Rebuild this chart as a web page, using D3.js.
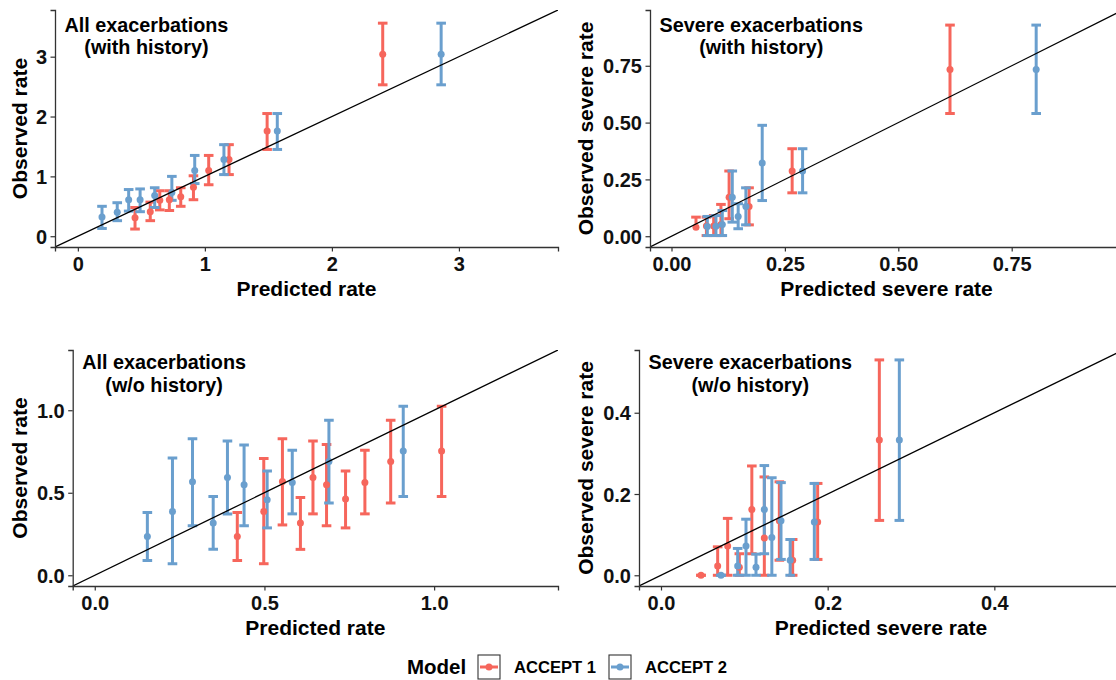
<!DOCTYPE html>
<html>
<head>
<meta charset="utf-8">
<script src="https://cdn.jsdelivr.net/npm/d3@7"></script>
<style>
  body { margin: 0; background: #fff; }
  text { font-family: "Liberation Sans", Arial, sans-serif; font-weight: bold; }
</style>
</head>
<body>
<div id="chart"></div>
<script>
// Calibration data.
// Each row: [predicted, observed, lower CI, upper CI]  (null = not drawn)

// All exacerbations (with history)
const allHistA1 = [
  [0.45, 0.31, 0.12, 0.48], [0.57, 0.41, 0.26, 0.57], [0.645, 0.60, 0.44, 0.76],
  [0.72, 0.61, 0.43, 0.76], [0.81, 0.66, 0.50, 0.81], [0.91, 0.82, 0.61, 1.01],
  [1.03, 1.10, 0.86, 1.35], [1.19, 1.28, 1.03, 1.53], [1.49, 1.76, 1.45, 2.05],
  [2.40, 3.04, 2.53, 3.56]
];
const allHistA2 = [
  [0.19, 0.32, 0.13, 0.50], [0.31, 0.40, 0.26, 0.56], [0.40, 0.61, 0.42, 0.78],
  [0.49, 0.61, 0.41, 0.79], [0.605, 0.68, 0.48, 0.81], [0.74, 0.73, 0.60, 1.00],
  [0.92, 1.10, 0.88, 1.35], [1.15, 1.28, 1.03, 1.53], [1.57, 1.76, 1.45, 2.05],
  [2.86, 3.04, 2.53, 3.56]
];

// Severe exacerbations (with history)
const sevHistA1 = [
  [0.054, 0.040, null, 0.084], [0.077, 0.045, 0.003, 0.084], [0.093, 0.045, 0.003, 0.091],
  [0.109, 0.052, 0.003, 0.140], [0.127, 0.172, 0.077, 0.287], [0.171, 0.131, 0.050, 0.213],
  [0.266, 0.287, 0.191, 0.385], [0.614, 0.734, 0.540, 0.929]
];
const sevHistA2 = [
  [0.079, 0.043, 0.003, 0.087], [0.098, 0.044, 0.003, 0.091], [0.112, 0.052, 0.003, 0.113],
  [0.134, 0.172, 0.062, 0.287], [0.147, 0.087, 0.033, 0.143], [0.164, 0.131, 0.050, 0.213],
  [0.200, 0.322, 0.157, 0.488], [0.289, 0.287, 0.191, 0.385], [0.804, 0.734, 0.540, 0.929]
];

// All exacerbations (w/o history)
const allNoHistA1 = [
  [0.42, 0.235, 0.09, 0.38], [0.498, 0.387, 0.07, 0.707], [0.553, 0.568, 0.305, 0.827],
  [0.606, 0.317, 0.157, 0.472], [0.643, 0.592, 0.372, 0.813], [0.683, 0.548, 0.30, 0.793],
  [0.739, 0.462, 0.287, 0.632], [0.796, 0.562, 0.372, 0.757], [0.872, 0.689, 0.438, 0.94],
  [1.022, 0.753, 0.478, 1.024]
];
const allNoHistA2 = [
  [0.155, 0.235, 0.09, 0.38], [0.229, 0.387, 0.07, 0.71], [0.288, 0.566, 0.30, 0.827],
  [0.349, 0.317, 0.157, 0.478], [0.391, 0.592, 0.372, 0.813], [0.44, 0.548, 0.30, 0.789],
  [0.508, 0.458, 0.287, 0.632], [0.582, 0.562, 0.372, 0.757], [0.69, 0.689, 0.438, 0.94],
  [0.909, 0.753, 0.478, 1.024]
];

// Severe exacerbations (w/o history)
const sevNoHistA1 = [
  [0.048, 0.0, 0.0, 0.0], [0.068, 0.023, 0.0, 0.07], [0.080, 0.072, 0.0, 0.14],
  [0.094, 0.020, 0.0, 0.053], [0.109, 0.162, 0.053, 0.269], [0.124, 0.092, 0.0, 0.242],
  [0.142, 0.134, 0.037, 0.23], [0.158, 0.037, 0.0, 0.088], [0.188, 0.131, 0.039, 0.226],
  [0.262, 0.333, 0.135, 0.53]
];
const sevNoHistA2 = [
  [0.072, 0.0, 0.0, 0.0], [0.092, 0.023, 0.0, 0.066], [0.102, 0.072, 0.0, 0.138],
  [0.114, 0.020, 0.0, 0.052], [0.124, 0.162, 0.053, 0.27], [0.133, 0.093, 0.0, 0.24],
  [0.144, 0.134, 0.039, 0.228], [0.155, 0.037, 0.0, 0.088], [0.184, 0.131, 0.039, 0.226],
  [0.286, 0.333, 0.135, 0.53]
];

const models = ["ACCEPT 1", "ACCEPT 2"];
const modelColors = ["#F6665C", "#6A9FCE"];

const panelTitles = [
  ["All exacerbations", "(with history)"],
  ["Severe exacerbations", "(with history)"],
  ["All exacerbations", "(w/o history)"],
  ["Severe exacerbations", "(w/o history)"]
];
const xLabels = ["Predicted rate", "Predicted severe rate", "Predicted rate", "Predicted severe rate"];
const yLabels = ["Observed rate", "Observed severe rate", "Observed rate", "Observed severe rate"];
const tickValues = [[0, 1, 2, 3], [0, 0.25, 0.5, 0.75], [0, 0.5, 1], [0, 0.2, 0.4]];
const tickFormats = ["d", ".2f", ".1f", ".1f"];
const axisMax = [3.6, 0.948, 1.3, 0.528];
const panelData = [
  [allHistA1, allHistA2], [sevHistA1, sevHistA2],
  [allNoHistA1, allNoHistA2], [sevNoHistA1, sevNoHistA2]
];

// Panel placement in the 1116x680 page
const boxes = [
  { l: 55,   r: 558,  t: 10,  b: 247, yTitleOff: 28, titleY: [31.5, 53.5] },
  { l: 650,  r: 1123, t: 10,  b: 247, yTitleOff: 57, titleY: [31.5, 53.5] },
  { l: 72.7, r: 558,  t: 350, b: 586, yTitleOff: 46, titleY: [368.5, 391.5] },
  { l: 639,  r: 1123, t: 350, b: 586, yTitleOff: 46, titleY: [368.5, 391.5] }
];

const W = 1116, H = 680;
const svg = d3.select("#chart").append("svg")
  .attr("width", W).attr("height", H);

const capHalf = 4.8;

function drawPanel(i) {
  const bx = boxes[i];
  const ex = axisMax[i] * 0.05;
  const x = d3.scaleLinear().domain([-ex, axisMax[i] + ex]).range([bx.l, bx.r]);
  const y = d3.scaleLinear().domain([-ex, axisMax[i] + ex]).range([bx.b, bx.t]);
  const g = svg.append("g");

  const clipId = "clip" + i;
  svg.append("clipPath").attr("id", clipId)
    .append("rect").attr("x", bx.l).attr("y", bx.t)
    .attr("width", bx.r - bx.l).attr("height", bx.b - bx.t);

  const plot = g.append("g").attr("clip-path", "url(#" + clipId + ")");

  // error bars, both models
  panelData[i].forEach((rows, m) => {
    const eg = plot.append("g")
      .attr("stroke", modelColors[m]).attr("stroke-width", 3).attr("fill", "none");
    rows.forEach(d => {
      const px = x(d[0]);
      const lo = d[2] === null ? d[1] : d[2];
      eg.append("line").attr("x1", px).attr("x2", px)
        .attr("y1", y(lo)).attr("y2", y(d[3]));
      eg.append("line").attr("x1", px - capHalf).attr("x2", px + capHalf)
        .attr("y1", y(d[3])).attr("y2", y(d[3]));
      if (d[2] !== null) {
        eg.append("line").attr("x1", px - capHalf).attr("x2", px + capHalf)
          .attr("y1", y(d[2])).attr("y2", y(d[2]));
      }
    });
  });

  // points
  panelData[i].forEach((rows, m) => {
    plot.append("g").selectAll("circle")
      .data(rows).join("circle")
      .attr("cx", d => x(d[0]))
      .attr("cy", d => y(d[1]))
      .attr("r", 3.5)
      .attr("fill", modelColors[m]);
  });

  // identity line
  const lim = x.domain();
  plot.append("line")
    .attr("x1", x(lim[0])).attr("y1", y(lim[0]))
    .attr("x2", x(lim[1])).attr("y2", y(lim[1]))
    .attr("stroke", "#000").attr("stroke-width", 1.3);

  // axes
  const fmt = d3.format(tickFormats[i]);
  const xAxis = g.append("g").attr("transform", `translate(0,${bx.b})`)
    .call(d3.axisBottom(x).tickValues(tickValues[i]).tickFormat(fmt).tickSize(4.5).tickPadding(4));
  const yAxis = g.append("g").attr("transform", `translate(${bx.l},0)`)
    .call(d3.axisLeft(y).tickValues(tickValues[i]).tickFormat(fmt).tickSize(4.5).tickPadding(3.5));
  [xAxis, yAxis].forEach(a => {
    a.select(".domain").attr("stroke", "#333").attr("stroke-width", 1.3);
    a.selectAll(".tick line").attr("stroke", "#333").attr("stroke-width", 1.2);
    a.selectAll(".tick text").attr("fill", "#111").style("font-size", "20px");
  });
  xAxis.selectAll(".tick text").attr("dy", "0.76em");
  yAxis.selectAll(".tick text").attr("dy", "0.36em");

  // axis titles
  svg.append("text")
    .attr("x", (bx.l + bx.r) / 2).attr("y", bx.b + 49)
    .attr("text-anchor", "middle").style("font-size", "21px").attr("fill", "#000")
    .text(xLabels[i]);
  svg.append("text")
    .attr("transform", `translate(${bx.l - bx.yTitleOff},${(bx.t + bx.b) / 2}) rotate(-90)`)
    .attr("text-anchor", "middle").style("font-size", "21px").attr("fill", "#000")
    .text(yLabels[i]);

  // panel title, two centred lines, block left-aligned
  const t1 = svg.append("text").attr("y", bx.titleY[0])
    .attr("text-anchor", "middle").style("font-size", "19.8px").text(panelTitles[i][0]);
  const w1 = t1.node().getComputedTextLength();
  const cx = bx.l + 9.5 + w1 / 2;
  t1.attr("x", cx);
  svg.append("text").attr("x", cx).attr("y", bx.titleY[1])
    .attr("text-anchor", "middle").style("font-size", "19.8px").text(panelTitles[i][1]);
}

for (let i = 0; i < 4; i++) drawPanel(i);

// legend
const leg = svg.append("g").attr("transform", "translate(407,667)");
leg.append("text").attr("x", 0).attr("y", 7).style("font-size", "20.5px").text("Model");
const keyX = [71, 202];
models.forEach((name, m) => {
  const k = leg.append("g").attr("transform", `translate(${keyX[m]},0)`);
  k.append("rect").attr("x", 0).attr("y", -12).attr("width", 22).attr("height", 24)
    .attr("fill", "#fff").attr("stroke", "#333").attr("stroke-width", 1.1);
  k.append("line").attr("x1", 2).attr("x2", 20).attr("y1", 0).attr("y2", 0)
    .attr("stroke", modelColors[m]).attr("stroke-width", 3);
  k.append("circle").attr("cx", 11).attr("cy", 0).attr("r", 3.5).attr("fill", modelColors[m]);
  k.append("text").attr("x", 36).attr("y", 6).style("font-size", "16.6px").text(name);
});
</script>
</body>
</html>
